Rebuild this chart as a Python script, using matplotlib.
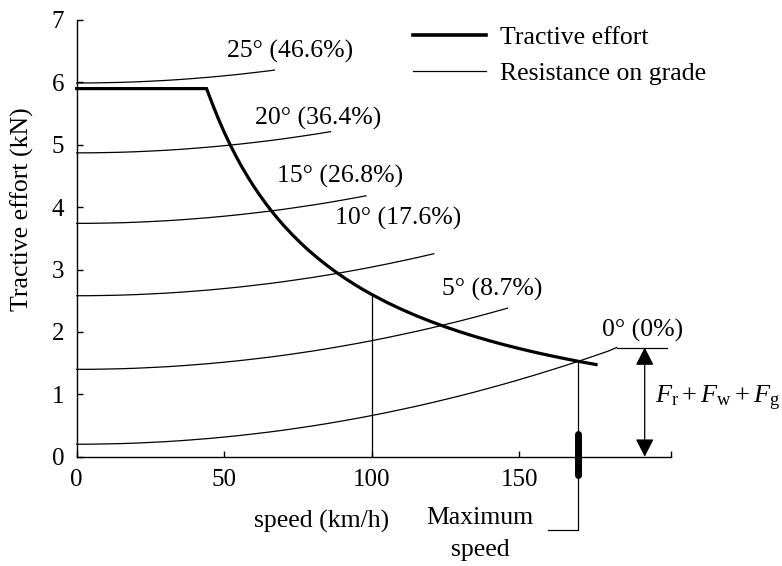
import matplotlib
matplotlib.use("Agg")
import matplotlib.pyplot as plt
from matplotlib.lines import Line2D

plt.rcParams['font.family'] = ['Liberation Serif', 'DejaVu Serif']
plt.rcParams['font.size'] = 18.5
plt.rcParams['mathtext.fontset'] = 'custom'
plt.rcParams['mathtext.rm'] = 'Liberation Serif'
plt.rcParams['mathtext.it'] = 'Liberation Serif:italic'

# ---- data ----
speed_te = [0, 44, 46, 48, 50, 52, 54, 56, 58, 60, 62, 64, 66, 68, 70, 73, 76,
            79, 82, 85, 88, 91, 94, 97, 100, 105, 110, 115, 120, 125, 130, 135,
            140, 145, 150, 155, 160, 165, 170, 176]
tractive = [5.900, 5.900, 5.652, 5.417, 5.200, 5.000, 4.815, 4.643, 4.483,
            4.333, 4.194, 4.063, 3.939, 3.824, 3.714, 3.562, 3.421, 3.291,
            3.171, 3.059, 2.955, 2.857, 2.766, 2.680, 2.600, 2.476, 2.364,
            2.261, 2.167, 2.080, 2.000, 1.926, 1.857, 1.793, 1.733, 1.677,
            1.625, 1.576, 1.529, 1.477]

speed_g0 = [0, 5, 10, 15, 20, 25, 30, 35, 40, 45, 50, 55, 60, 65, 70, 75, 80,
            85, 90, 95, 100, 105, 110, 115, 120, 125, 130, 135, 140, 145, 150,
            155, 160, 165, 170, 175, 180, 183]
res_g0 = [0.200, 0.201, 0.205, 0.210, 0.218, 0.229, 0.241, 0.256, 0.274,
          0.293, 0.315, 0.339, 0.366, 0.394, 0.425, 0.459, 0.494, 0.532,
          0.573, 0.615, 0.660, 0.707, 0.757, 0.808, 0.862, 0.919, 0.977,
          1.038, 1.102, 1.167, 1.235, 1.305, 1.378, 1.452, 1.529, 1.609,
          1.690, 1.750]

speed_g5 = [0, 5, 10, 15, 20, 25, 30, 35, 40, 45, 50, 55, 60, 65, 70, 75, 80,
            85, 90, 95, 100, 105, 110, 115, 120, 125, 130, 135, 140, 145, 146]
res_g5 = [1.400, 1.401, 1.405, 1.410, 1.418, 1.429, 1.441, 1.456, 1.474,
          1.493, 1.515, 1.539, 1.566, 1.594, 1.625, 1.659, 1.694, 1.732,
          1.773, 1.815, 1.860, 1.907, 1.957, 2.008, 2.062, 2.119, 2.177,
          2.238, 2.302, 2.367, 2.381]

speed_g10 = [0, 5, 10, 15, 20, 25, 30, 35, 40, 45, 50, 55, 60, 65, 70, 75, 80,
             85, 90, 95, 100, 105, 110, 115, 120, 121]
res_g10 = [2.580, 2.581, 2.585, 2.590, 2.598, 2.609, 2.621, 2.636, 2.654,
           2.673, 2.695, 2.719, 2.746, 2.774, 2.805, 2.839, 2.874, 2.912,
           2.953, 2.995, 3.040, 3.087, 3.137, 3.188, 3.242, 3.253]

speed_g15 = [0, 5, 10, 15, 20, 25, 30, 35, 40, 45, 50, 55, 60, 65, 70, 75, 80,
             85, 90, 95, 98]
res_g15 = [3.740, 3.741, 3.745, 3.750, 3.758, 3.769, 3.781, 3.796, 3.814,
           3.833, 3.855, 3.879, 3.906, 3.934, 3.965, 3.999, 4.034, 4.072,
           4.113, 4.155, 4.182]

speed_g20 = [0, 5, 10, 15, 20, 25, 30, 35, 40, 45, 50, 55, 60, 65, 70, 75, 80,
             85, 86]
res_g20 = [4.870, 4.871, 4.875, 4.880, 4.888, 4.899, 4.911, 4.926, 4.944,
           4.963, 4.985, 5.009, 5.036, 5.064, 5.095, 5.129, 5.164, 5.202,
           5.210]

speed_g25 = [0, 5, 10, 15, 20, 25, 30, 35, 40, 45, 50, 55, 60, 65, 67]
res_g25 = [5.990, 5.991, 5.995, 6.000, 6.008, 6.019, 6.031, 6.046, 6.064,
           6.083, 6.105, 6.129, 6.156, 6.184, 6.197]

grade_labels = ['0° (0%)', '5° (8.7%)', '10° (17.6%)', '15° (26.8%)',
                '20° (36.4%)', '25° (46.6%)']
label_x = [177.9, 123.7, 87.5, 67.8, 60.3, 50.8]
label_y = [2.02, 2.68, 3.82, 4.49, 5.42, 6.49]

x_ticks = [0, 50, 100, 150, 201.5]
x_tick_labels = ['0', '50', '100', '150', '']
y_ticks = [0, 1, 2, 3, 4, 5, 6, 7]

max_speed = 170
max_speed_force = 1.53
ref_speed = 100
ref_force = 2.60
total_res = 1.75
arrow_x = 192.5

# ---- figure ----
fig = plt.figure(figsize=(7.82, 5.66), dpi=100)
ax = fig.add_axes([0.0981, 0.1931, 0.8584 - 0.0981, 0.9647 - 0.1931])

lw_thin = 0.9
grade_curves = [(speed_g0, res_g0), (speed_g5, res_g5), (speed_g10, res_g10),
                (speed_g15, res_g15), (speed_g20, res_g20), (speed_g25, res_g25)]
for sx, sy in grade_curves:
    ax.plot(sx, sy, color='black', lw=lw_thin, clip_on=False)

ax.plot(speed_te, tractive, color='black', lw=2.3, solid_joinstyle='miter',
        clip_on=False)

for txt, lx, ly in zip(grade_labels, label_x, label_y):
    ax.text(lx, ly, txt, ha='left', va='center')

# vertical line at 100 km/h
ax.plot([ref_speed, ref_speed], [0, ref_force], color='black', lw=lw_thin)

# leader from 0° curve end to the right
ax.plot([speed_g0[-1], 200], [total_res, total_res], color='black', lw=lw_thin,
        clip_on=False)

# double arrow for resistance
ax.annotate('', xy=(arrow_x, 0), xytext=(arrow_x, total_res),
            arrowprops=dict(arrowstyle='<|-|>,head_length=0.55,head_width=0.28',
                            color='black', lw=0.9, shrinkA=0, shrinkB=0,
                            mutation_scale=20), annotation_clip=False)
ax.text(195.9, 0.94, r'$F_{\rm r} + F_{\rm w} + F_{\rm g}$', ha='left',
        va='center', fontsize=19)

# maximum speed leader
ax.plot([max_speed, max_speed, 159.8], [max_speed_force, -1.175, -1.175],
        color='black', lw=lw_thin, clip_on=False)
ax.plot([max_speed, max_speed], [-0.30, 0.36], color='black', lw=5,
        solid_capstyle='round', clip_on=False)
ax.text(136.7, -0.98, 'Maximum', ha='center', va='center')
ax.text(136.7, -1.50, 'speed', ha='center', va='center')

# axes styling
ax.set_xlim(0, 201.5)
ax.set_ylim(0, 7)
ax.set_xticks(x_ticks)
ax.set_xticklabels(x_tick_labels)
ax.set_yticks(y_ticks)
for s in ['top', 'right']:
    ax.spines[s].set_visible(False)
for s in ['left', 'bottom']:
    ax.spines[s].set_linewidth(1.0)
ax.tick_params(direction='in', length=4.5, width=1.0, pad=9, labelsize=18)

ax.set_ylabel('Tractive effort (kN)')
ax.yaxis.set_label_coords(-0.072, 0.567)
ax.set_xlabel('speed (km/h)')
ax.xaxis.set_label_coords(0.4126, -0.122)

# legend
handles = [Line2D([], [], color='black', lw=2.6),
           Line2D([], [], color='black', lw=lw_thin)]
ax.legend(handles, ['Tractive effort', 'Resistance on grade'],
          loc='upper left', bbox_to_anchor=(413 / 782, 1 - 26 / 566),
          bbox_transform=fig.transFigure, frameon=False, borderpad=0,
          borderaxespad=0, handlelength=2.85, handletextpad=0.55,
          labelspacing=0.5)

fig.savefig('out.png', dpi=100)
